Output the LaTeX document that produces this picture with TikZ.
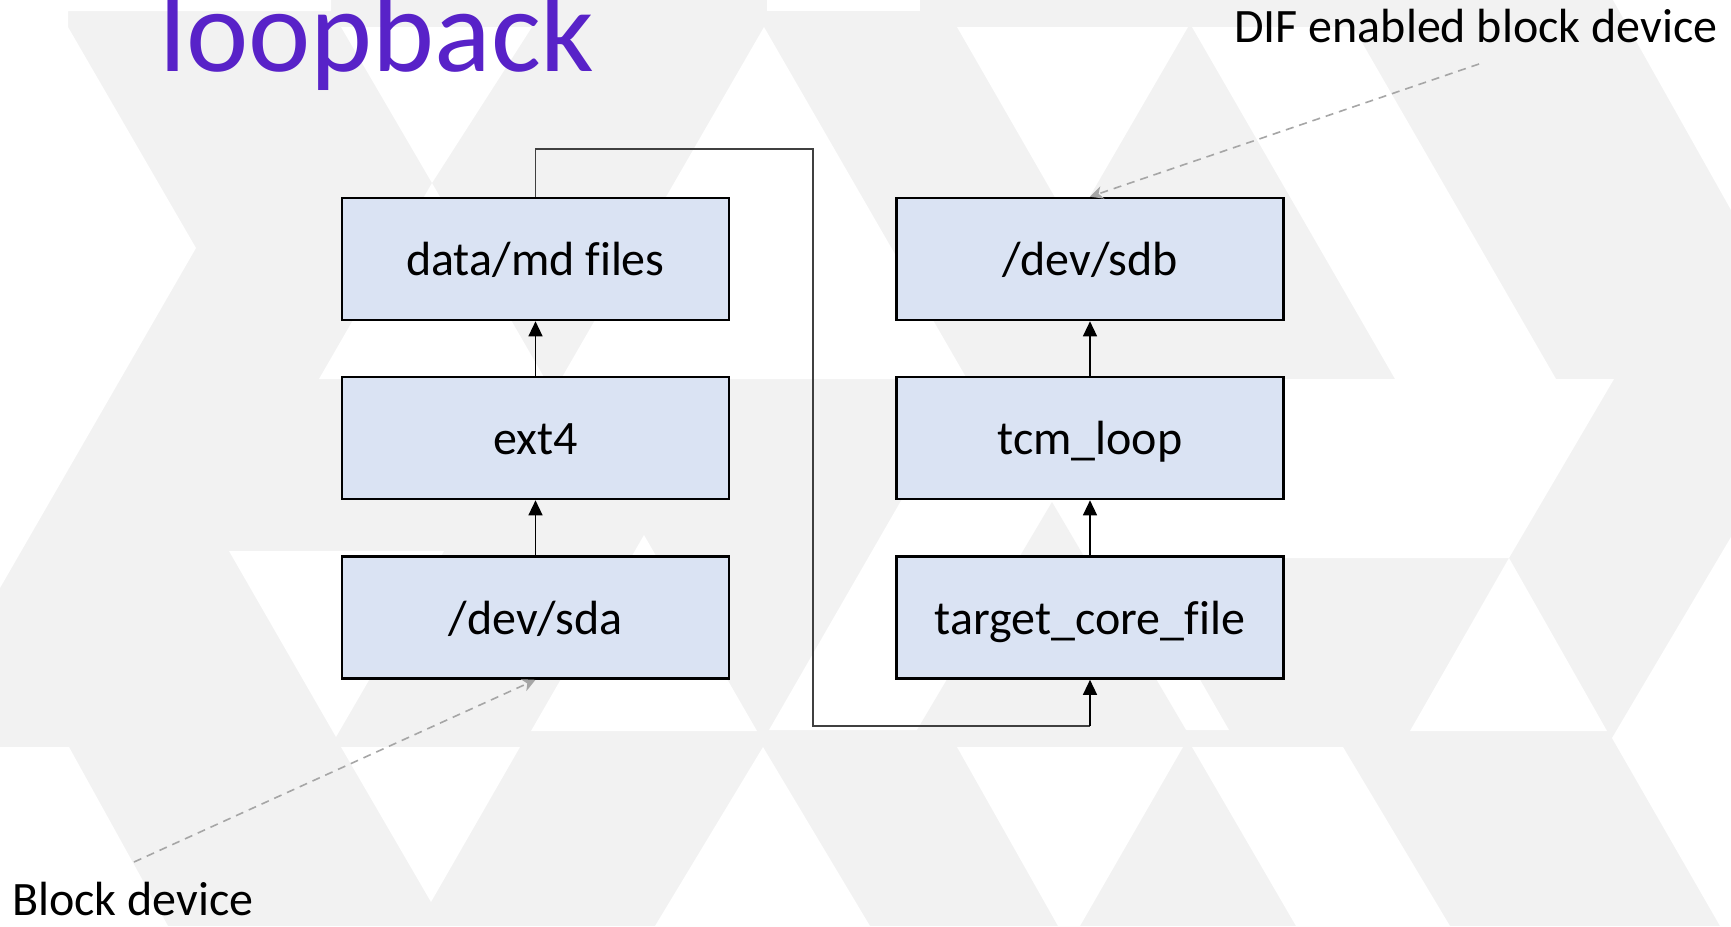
\documentclass[tikz,border=0pt]{standalone}
\usepackage{fontspec}
\setmainfont{Carlito}[Ligatures=NoCommon]
\usetikzlibrary{arrows.meta}
\definecolor{bgray}{HTML}{F2F2F2}
\definecolor{boxfill}{HTML}{DAE3F3}
\definecolor{titlepurple}{HTML}{5822C8}
\definecolor{loopgray}{HTML}{404040}
\definecolor{pointgray}{HTML}{A6A6A6}
\tikzset{
  layer/.style={draw=black, line width=2.6pt, fill=boxfill,
    minimum width=387pt, minimum height=122pt, inner sep=0pt,
    text height=36pt, text depth=3pt,
    font=\fontsize{48}{56}\selectfont},
  stack/.style={line width=1.3pt, -{Triangle[width=14pt,length=15pt]}},
  loopwire/.style={draw=loopgray, line width=1.5pt},
  pointer/.style={draw=pointgray, line width=1.6pt, dash pattern=on 8pt off 6pt,
    -{Stealth[width=13pt,length=13pt,inset=4pt]}},
  label/.style={inner sep=0pt, font=\fontsize{48}{56}\selectfont},
  hole/.style={fill=white},
  facet/.style={fill=bgray}
}
\begin{document}
\begin{tikzpicture}[x=1pt,y=-1pt]
  % canvas
  \useasboundingbox (0,0) rectangle (1731,926);
  \fill[bgray] (0,0) rectangle (1731,926);
  % white facets of the triangle pattern, upper row
  \fill[hole] (0,0) -- (331,0) -- (331,11) -- (68,11) -- (68,27) -- (196,248) -- (0,588) -- cycle;
  \fill[hole] (767,0) rectangle (920,11);
  \fill[hole] (341,27) -- (532,27) -- (432,183) -- cycle;
  \fill[hole] (432,183) -- (319,379) -- (545,379) -- cycle;
  \fill[hole] (764,27) -- (561,379) -- (967,379) -- cycle;
  \fill[hole] (957,27) -- (1188,27) -- (1072,227) -- cycle;
  \fill[hole] (1192,27) -- (1353,27) -- (1556,379) -- (1395,379) -- cycle;
  \fill[hole] (1613,0) -- (1731,0) -- (1731,210) -- cycle;
  % middle row
  \fill[hole] (1284,379) -- (1614,379) -- (1509,558) -- (1130,558) -- (1229,730)
              -- (769,730) -- (902,499) -- (1284,499) -- cycle;
  \fill[facet] (1052,502) -- (917,730) -- (1186,730) -- cycle;
  \fill[hole] (229,551) -- (444,551) -- (336,737) -- cycle;
  \fill[hole] (644,535) -- (531,731) -- (757,731) -- cycle;
  \fill[hole] (1509,558) -- (1410,731) -- (1607,731) -- cycle;
  \fill[hole] (1731,537) -- (1612,738) -- (1720,926) -- (1731,926) -- cycle;
  % lower row
  \fill[hole] (0,747) -- (69,747) -- (168,926) -- (0,926) -- cycle;
  \fill[hole] (341,747) -- (520,747) -- (431,902) -- cycle;
  \fill[hole] (763,747) -- (655,926) -- (870,926) -- cycle;
  \fill[hole] (957,747) -- (1183,747) -- (1080,926) -- (1058,926) -- cycle;
  \fill[hole] (1192,747) -- (1343,747) -- (1450,926) -- (1296,926) -- cycle;

  % title
  \node[anchor=base west, inner sep=0pt, text=titlepurple,
        font=\fontsize{118}{130}\selectfont] (title) at (159,71) {loopback};

  % left stack
  \node[layer] (files) at (535.5,259) {data/md files};
  \node[layer] (ext)   at (535.5,438) {ext4};
  \node[layer] (sda)   at (535.5,617.5) {/dev/sda};
  % right stack
  \node[layer] (sdb)   at (1090,259) {/dev/sdb};
  \node[layer] (tcm)   at (1090,438) {tcm\_loop};
  \node[layer] (tcf)   at (1090,617.5) {target\_core\_file};

  \draw[stack] (sda.north) -- (ext.south);
  \draw[stack] (ext.north) -- (files.south);
  \draw[stack] (tcf.north) -- (tcm.south);
  \draw[stack] (tcm.north) -- (sdb.south);

  % loop from the file system over to the backing file
  \coordinate (bend) at (813,149);
  \coordinate (foot) at (1090,726);
  \draw[loopwire] (files.north) |- (bend) |- (foot);
  \draw[stack] (foot) -- (tcf.south);

  % annotations
  \node[label, anchor=base west] (dif) at (1234,42) {DIF enabled block device};
  \node[label, anchor=base west] (blk) at (12,915) {Block device};
  \coordinate (difend) at (1479,64);
  \coordinate (blkend) at (134,862);
  \draw[pointer] (difend) -- (sdb.north);
  \draw[pointer] (blkend) -- (sda.south);
\end{tikzpicture}
\end{document}
